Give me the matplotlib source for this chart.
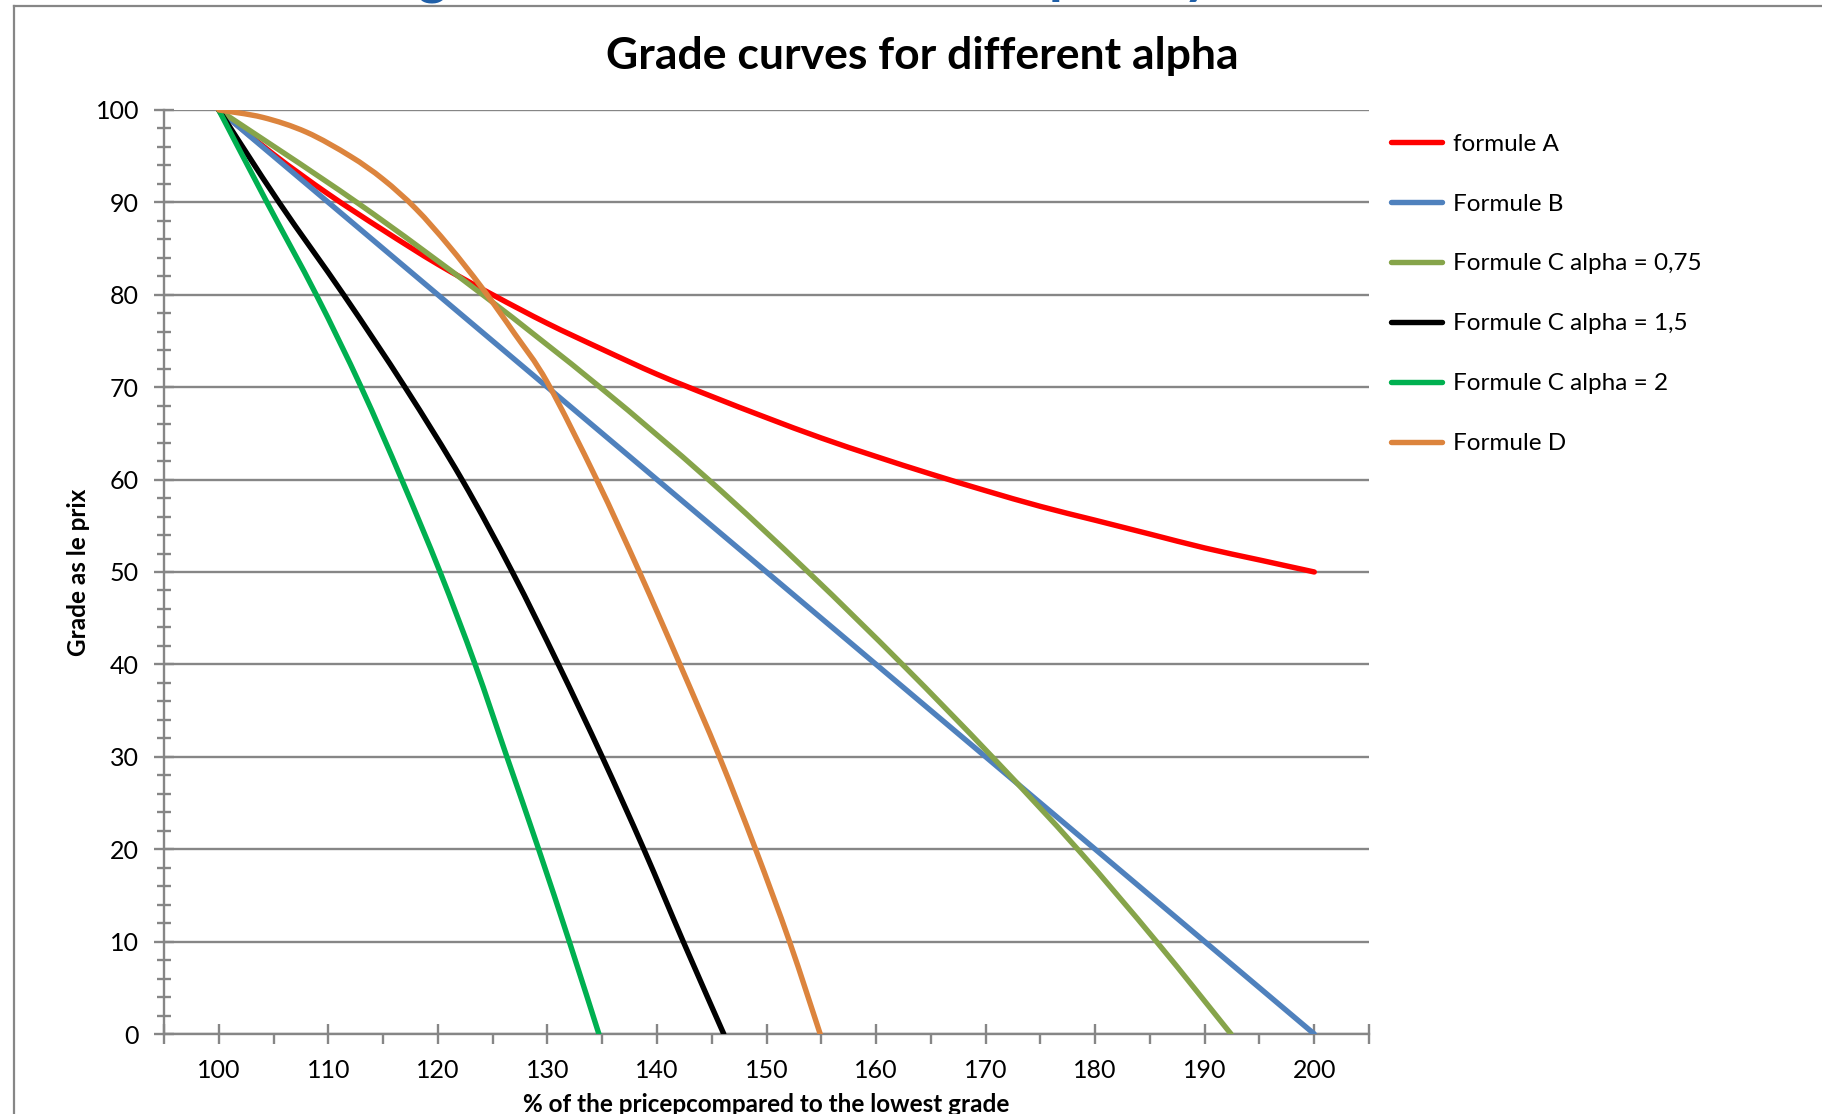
import matplotlib
matplotlib.use("Agg")
import matplotlib.pyplot as plt
from matplotlib.ticker import MultipleLocator, FixedLocator
from matplotlib.lines import Line2D
from matplotlib.path import Path
from matplotlib.patches import PathPatch

plt.rcParams['font.family'] = ['Lato', 'DejaVu Sans']

# price as % of the lowest offer, and grade for each scoring formula
price_a = [100, 105, 110, 115, 120, 125, 130, 135, 140, 145, 150,
           155, 160, 165, 170, 175, 180, 185, 190, 195, 200]
grade_a = [100, 95.2, 90.9, 87.0, 83.3, 80.0, 76.9, 74.1, 71.4, 69.0, 66.7,
           64.5, 62.5, 60.6, 58.8, 57.1, 55.6, 54.1, 52.6, 51.3, 50.0]

price_b = [100, 110, 120, 130, 140, 150, 160, 170, 180, 190, 200]
grade_b = [100, 90, 80, 70, 60, 50, 40, 30, 20, 10, 0]

price_c075 = [100, 112.6, 124.1, 134.8, 144.7, 153.8, 162.4, 170.6, 178.4, 185.6, 192.4]
grade_c075 = [100, 90, 80, 70, 60, 50, 40, 30, 20, 10, 0]

price_c15 = [100, 105.5, 111.4, 117.0, 122.2, 126.8, 131.0, 135.0, 138.8, 142.4, 146.1]
grade_c15 = [100, 90, 80, 70, 60, 50, 40, 30, 20, 10, 0]

price_c2 = [100, 104.4, 108.9, 113.0, 116.7, 120.2, 123.4, 126.3, 129.2, 132.0, 134.7]
grade_c2 = [100, 90, 80, 70, 60, 50, 40, 30, 20, 10, 0]

price_d = [100, 104, 108, 112, 115, 118, 121, 124, 127, 130,
           134.5, 138.4, 142.1, 145.7, 149.0, 152.1, 154.9]
grade_d = [100, 99.2, 97.6, 95.0, 92.5, 89.3, 85.3, 80.8, 75.8, 70.5,
           60, 50, 40, 30, 20, 10, 0]

series = [
    ("formule A", price_a, grade_a, "#FF0000"),
    ("Formule B", price_b, grade_b, "#4F81BD"),
    ("Formule C alpha = 0,75", price_c075, grade_c075, "#86A44A"),
    ("Formule C alpha = 1,5", price_c15, grade_c15, "#000000"),
    ("Formule C alpha = 2", price_c2, grade_c2, "#00B050"),
    ("Formule D", price_d, grade_d, "#DC843D"),
]

GRID = "#868686"
LW = 3.9


def smooth_path(xs, ys):
    # Catmull-Rom style bezier through the points (smoothed line)
    pts = list(zip(xs, ys))
    verts = [pts[0]]
    codes = [Path.MOVETO]
    n = len(pts)
    for i in range(n - 1):
        p0 = pts[max(i - 1, 0)]
        p1 = pts[i]
        p2 = pts[i + 1]
        p3 = pts[min(i + 2, n - 1)]
        c1 = (p1[0] + (p2[0] - p0[0]) / 6, p1[1] + (p2[1] - p0[1]) / 6)
        c2 = (p2[0] - (p3[0] - p1[0]) / 6, p2[1] - (p3[1] - p1[1]) / 6)
        verts += [c1, c2, p2]
        codes += [Path.CURVE4] * 3
    return Path(verts, codes)


fig = plt.figure(figsize=(18.22, 11.14), dpi=100)
ax = fig.add_axes([0.090, 0.0718, 0.6614, 0.8295])

handles = []
for label, xs, ys, col in series:
    ax.add_patch(PathPatch(smooth_path(xs, ys), fill=False, edgecolor=col,
                           lw=LW, capstyle='round', joinstyle='round', zorder=3))
    handles.append(Line2D([], [], color=col, lw=LW, solid_capstyle='round',
                          label=label))

ax.set_xlim(95, 205)
ax.set_ylim(0, 100)

ax.xaxis.set_major_locator(FixedLocator([95] + list(range(100, 201, 10)) + [205]))
ax.xaxis.set_minor_locator(FixedLocator(list(range(105, 200, 10))))
ax.set_xticklabels([""] + [str(v) for v in range(100, 201, 10)] + [""])
ax.yaxis.set_major_locator(MultipleLocator(10))
ax.yaxis.set_minor_locator(MultipleLocator(2))

ax.grid(axis='y', which='major', color=GRID, lw=1.7, zorder=1)
ax.set_axisbelow(True)

for s in ['top', 'right']:
    ax.spines[s].set_visible(False)
for s in ['left', 'bottom']:
    ax.spines[s].set_color(GRID)
    ax.spines[s].set_linewidth(1.7)

ax.tick_params(axis='y', which='major', direction='inout', length=14, width=1.7,
               color=GRID, labelsize=18, pad=11)
ax.tick_params(axis='y', which='minor', direction='inout', length=10, width=1.7,
               color=GRID)
ax.tick_params(axis='x', which='major', direction='inout', length=14, width=1.7,
               color=GRID, labelsize=18, pad=11)
ax.tick_params(axis='x', which='minor', direction='out', length=7, width=1.7,
               color=GRID)

ax.set_ylabel("Grade as le prix", fontsize=17.5, fontweight='bold', labelpad=4)
ax.set_xlabel("% of the pricepcompared to the lowest grade", fontsize=17.5,
              fontweight='bold', labelpad=8)

fig.text(0.506, 0.9497, "Grade curves for different alpha", fontsize=32,
         fontweight='bold', ha='center', va='center')

# slide heading above the chart, only its lower part is inside the frame
for ch, xf in [("g", 0.237), ("p", 0.584), ("y", 0.657)]:
    fig.text(xf, 1.006, ch, fontsize=40, fontweight='bold', color="#1F5FA8",
             ha='center', va='baseline')

# outer frame of the chart object
fig.add_artist(Line2D([0.0077, 1.0], [0.9946, 0.9946], color=GRID, lw=1.6))
fig.add_artist(Line2D([0.0077, 0.0077], [0.0, 0.9946], color=GRID, lw=1.6))

ax.legend(handles=handles, loc='upper left', bbox_to_anchor=(0.7635, 0.880),
          bbox_transform=fig.transFigure, frameon=False, fontsize=17.5,
          handlelength=2.1, handletextpad=0.45, labelspacing=1.6,
          borderpad=0, borderaxespad=0)

fig.savefig("out.png", dpi=100)
